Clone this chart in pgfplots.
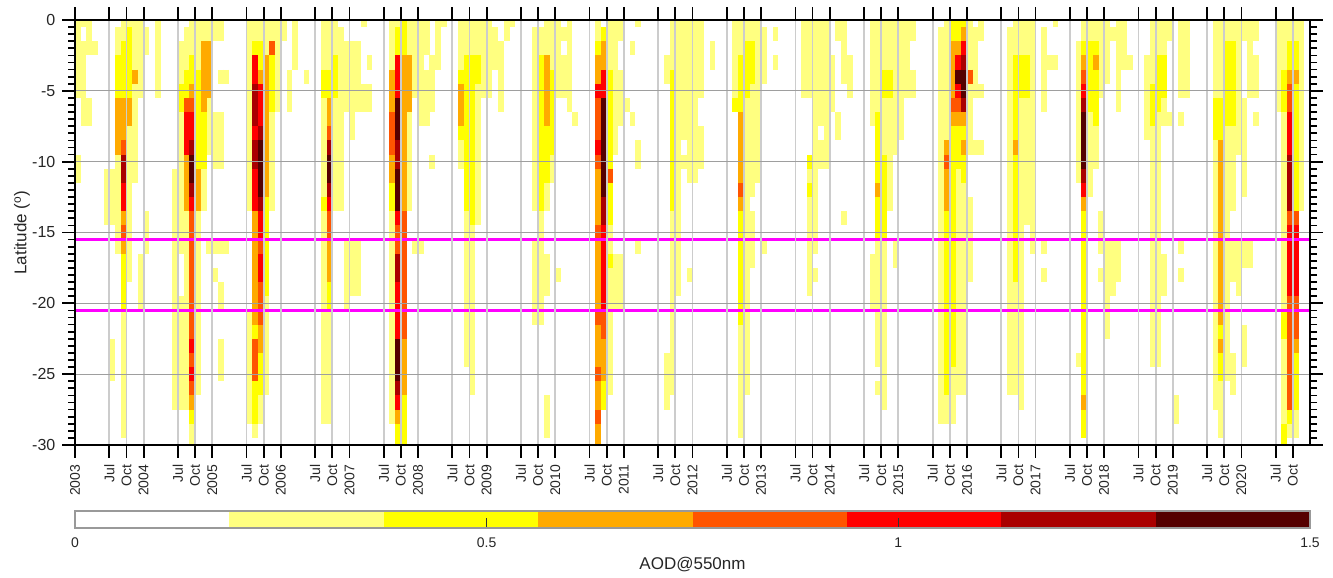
\documentclass[border=0pt]{standalone}
\usepackage{fontspec}
\setmainfont{Liberation Sans}
\usepackage{pgfplots}
\usepackage{pgfplotstable}
\pgfplotsset{compat=1.18}

% flipped hot(8) levels, AOD 0..1.5 in steps of 0.1875
\definecolor{c1}{RGB}{255,255,128}
\definecolor{c2}{RGB}{255,255,0}
\definecolor{c3}{RGB}{255,170,0}
\definecolor{c4}{RGB}{255,85,0}
\definecolor{c5}{RGB}{255,0,0}
\definecolor{c6}{RGB}{170,0,0}
\definecolor{c7}{RGB}{85,0,0}
\definecolor{labgray}{RGB}{38,38,38}
\definecolor{bound}{RGB}{255,0,255}

% one row = one run of cells: year, month (0=Jan), first and last row (latitude -a .. -b), level
\pgfplotstableread{
yr m a b lev
2003 0 0 5 1
2003 0 10 11 1
2003 1 0 0 1
2003 1 2 7 1
2003 2 0 2 1
2003 2 6 7 1
2003 3 2 2 1
2003 5 11 14 1
2003 6 11 14 1
2003 6 23 25 1
2003 7 1 2 1
2003 7 3 5 2
2003 7 6 9 3
2003 7 10 16 1
2003 8 0 1 1
2003 8 2 5 2
2003 8 6 8 3
2003 8 9 9 4
2003 8 10 11 6
2003 8 12 13 5
2003 8 14 14 3
2003 8 15 15 4
2003 8 16 16 3
2003 8 17 20 2
2003 8 21 29 1
2003 9 0 0 1
2003 9 1 5 2
2003 9 6 7 3
2003 9 8 18 1
2003 10 0 3 1
2003 10 4 4 3
2003 10 5 11 1
2003 11 0 5 1
2003 11 17 20 1
2004 0 1 2 1
2004 0 14 16 1
2004 2 0 5 1
2004 5 11 27 1
2004 6 2 4 1
2004 6 5 6 2
2004 6 7 16 1
2004 6 20 27 1
2004 7 1 3 1
2004 7 4 5 2
2004 7 6 6 4
2004 7 7 9 5
2004 7 10 13 3
2004 7 14 27 1
2004 8 0 2 1
2004 8 3 4 2
2004 8 5 5 3
2004 8 6 6 4
2004 8 7 8 5
2004 8 9 9 6
2004 8 10 11 7
2004 8 12 12 6
2004 8 13 13 5
2004 8 14 22 4
2004 8 23 23 5
2004 8 24 24 4
2004 8 25 25 5
2004 8 26 26 4
2004 8 27 27 3
2004 8 28 28 2
2004 8 29 30 1
2004 9 0 3 1
2004 9 4 10 2
2004 9 11 13 3
2004 9 14 26 1
2004 10 0 1 1
2004 10 2 6 3
2004 10 7 10 2
2004 10 11 13 1
2004 11 0 1 1
2004 11 2 5 3
2004 11 6 9 1
2004 11 16 16 1
2005 0 0 1 1
2005 0 7 10 1
2005 0 16 16 1
2005 0 18 18 1
2005 1 0 1 1
2005 1 4 4 1
2005 1 7 10 1
2005 1 16 16 1
2005 1 19 20 1
2005 1 23 25 1
2005 2 4 4 1
2005 2 16 16 1
2005 6 0 13 1
2005 6 21 28 1
2005 7 0 1 1
2005 7 2 2 2
2005 7 3 4 5
2005 7 5 7 6
2005 7 8 8 5
2005 7 9 10 6
2005 7 11 13 5
2005 7 14 21 3
2005 7 22 22 2
2005 7 23 25 4
2005 7 26 28 2
2005 7 29 29 1
2005 8 0 1 1
2005 8 2 3 2
2005 8 4 4 3
2005 8 5 7 5
2005 8 8 8 6
2005 8 9 12 7
2005 8 13 13 6
2005 8 14 15 5
2005 8 16 16 4
2005 8 17 18 5
2005 8 19 21 4
2005 8 22 23 3
2005 8 24 26 2
2005 8 27 28 1
2005 9 0 2 1
2005 9 3 12 3
2005 9 13 19 2
2005 9 20 26 1
2005 10 0 1 1
2005 10 2 2 4
2005 10 3 6 2
2005 10 7 13 1
2005 11 0 6 1
2006 0 0 1 1
2006 1 4 6 1
2006 2 0 3 1
2006 4 4 4 1
2006 7 0 3 1
2006 7 4 5 2
2006 7 6 12 1
2006 7 13 13 2
2006 7 14 28 1
2006 8 0 3 1
2006 8 4 5 2
2006 8 6 7 3
2006 8 8 8 4
2006 8 9 9 6
2006 8 10 11 7
2006 8 12 12 6
2006 8 13 13 5
2006 8 14 15 4
2006 8 16 18 3
2006 8 19 20 2
2006 8 21 28 1
2006 9 0 2 1
2006 9 3 5 2
2006 9 6 13 1
2006 10 1 13 1
2006 11 2 6 1
2006 11 16 20 1
2007 0 2 8 1
2007 0 16 19 1
2007 1 2 6 1
2007 1 16 19 1
2007 2 0 0 1
2007 2 5 6 1
2007 3 3 3 1
2007 3 5 6 1
2007 7 0 3 1
2007 7 4 6 3
2007 7 7 9 4
2007 7 10 11 3
2007 7 12 13 2
2007 7 14 28 1
2007 8 0 0 1
2007 8 1 2 2
2007 8 3 5 5
2007 8 6 8 7
2007 8 9 10 6
2007 8 11 13 7
2007 8 14 14 5
2007 8 15 16 4
2007 8 17 18 6
2007 8 19 22 5
2007 8 23 25 7
2007 8 26 26 6
2007 8 27 27 5
2007 8 28 28 3
2007 8 29 30 2
2007 9 0 2 2
2007 9 3 13 3
2007 9 14 22 4
2007 9 23 26 3
2007 9 27 30 2
2007 10 0 2 1
2007 10 3 6 3
2007 10 7 13 1
2007 11 0 5 1
2007 11 16 16 1
2008 0 0 7 1
2008 0 16 16 1
2008 1 0 2 1
2008 1 4 7 1
2008 2 3 6 1
2008 2 10 10 1
2008 3 0 3 1
2008 4 0 0 1
2008 7 0 3 1
2008 7 4 4 2
2008 7 5 7 3
2008 7 8 8 2
2008 7 9 10 1
2008 8 0 2 1
2008 8 3 13 2
2008 8 14 24 1
2008 9 0 2 1
2008 9 3 14 2
2008 9 15 26 1
2008 10 0 2 1
2008 10 3 4 2
2008 10 5 14 1
2008 11 0 5 1
2009 0 0 5 1
2009 1 1 3 1
2009 2 2 6 1
2009 3 0 1 1
2009 4 0 0 1
2009 8 1 13 1
2009 8 16 21 1
2009 9 1 2 1
2009 9 3 13 2
2009 9 14 21 1
2009 10 0 2 1
2009 10 3 7 3
2009 10 8 11 2
2009 10 12 13 1
2009 10 17 19 1
2009 10 27 29 1
2009 11 0 3 1
2009 11 4 9 2
2009 11 10 11 1
2010 0 0 5 1
2010 0 18 18 1
2010 1 1 1 1
2010 1 3 5 1
2010 2 0 6 1
2010 3 7 7 1
2010 7 0 1 1
2010 7 2 2 2
2010 7 3 4 3
2010 7 5 5 5
2010 7 6 8 4
2010 7 9 9 5
2010 7 10 10 4
2010 7 11 14 3
2010 7 15 15 4
2010 7 16 20 3
2010 7 21 21 4
2010 7 22 24 3
2010 7 25 25 4
2010 7 26 27 3
2010 7 28 28 4
2010 7 29 30 3
2010 8 1 1 2
2010 8 2 3 3
2010 8 4 5 5
2010 8 6 12 7
2010 8 13 14 6
2010 8 15 20 5
2010 8 21 22 4
2010 8 23 25 3
2010 8 26 27 2
2010 9 0 3 1
2010 9 4 10 2
2010 9 11 11 4
2010 9 12 14 2
2010 9 15 16 1
2010 9 17 17 2
2010 9 18 26 1
2010 10 0 9 1
2010 10 17 20 1
2010 11 0 1 1
2010 11 4 7 1
2010 11 17 20 1
2011 0 6 6 1
2011 1 2 2 1
2011 1 7 7 1
2011 2 0 0 1
2011 2 9 10 1
2011 2 16 16 1
2011 7 3 4 1
2011 7 24 27 1
2011 8 0 3 1
2011 8 4 13 2
2011 8 14 26 1
2011 9 0 19 1
2011 10 0 8 1
2011 10 10 10 1
2011 11 0 11 1
2011 11 18 18 1
2012 0 0 11 1
2012 1 0 5 1
2012 1 8 10 1
2012 3 2 3 1
2012 7 0 5 1
2012 7 6 6 2
2012 8 0 2 1
2012 8 3 6 2
2012 8 7 11 3
2012 8 12 12 4
2012 8 13 13 3
2012 8 14 21 2
2012 8 22 29 1
2012 9 0 1 1
2012 9 2 5 2
2012 9 6 26 1
2012 10 0 1 1
2012 10 2 4 2
2012 10 5 12 1
2012 10 14 17 1
2012 11 0 11 1
2013 0 1 4 1
2013 0 16 16 1
2013 2 1 1 1
2013 2 3 3 1
2013 7 0 5 1
2013 8 0 5 1
2013 8 10 10 2
2013 8 11 11 1
2013 8 12 12 2
2013 8 13 19 1
2013 9 0 16 1
2013 9 18 18 1
2013 10 0 7 1
2013 10 9 10 1
2013 11 0 10 1
2014 0 3 6 1
2014 1 0 1 1
2014 1 7 8 1
2014 2 0 4 1
2014 2 14 14 1
2014 3 3 5 1
2014 7 0 7 1
2014 7 17 20 1
2014 8 0 6 1
2014 8 7 11 2
2014 8 12 12 3
2014 8 13 15 2
2014 8 16 24 1
2014 8 26 26 1
2014 9 0 3 1
2014 9 4 5 2
2014 9 6 9 1
2014 9 10 15 2
2014 9 16 27 1
2014 10 0 3 1
2014 10 4 5 2
2014 10 6 13 1
2014 11 0 9 1
2014 11 16 17 1
2015 0 0 8 1
2015 1 0 5 1
2015 2 0 1 1
2015 2 4 5 1
2015 7 1 28 1
2015 8 0 8 1
2015 8 9 9 3
2015 8 10 10 4
2015 8 11 13 3
2015 8 14 26 2
2015 8 27 28 1
2015 9 0 1 2
2015 9 2 5 3
2015 9 6 6 4
2015 9 7 7 3
2015 9 8 24 2
2015 9 25 28 1
2015 10 0 1 2
2015 10 2 2 3
2015 10 3 3 5
2015 10 4 4 7
2015 10 5 5 5
2015 10 6 6 4
2015 10 7 7 3
2015 10 8 10 2
2015 10 11 26 1
2015 11 0 0 2
2015 11 1 1 3
2015 11 2 2 5
2015 11 3 3 6
2015 11 4 5 7
2015 11 6 6 6
2015 11 7 7 3
2015 11 8 8 2
2015 11 9 9 3
2015 11 10 11 2
2015 11 12 26 1
2016 0 0 3 1
2016 0 4 4 4
2016 0 5 9 1
2016 0 13 18 1
2016 1 1 5 1
2016 1 9 9 1
2016 2 0 1 1
2016 2 5 5 1
2016 2 9 9 1
2016 7 1 26 1
2016 8 0 2 1
2016 8 3 8 2
2016 8 9 9 3
2016 8 10 18 2
2016 8 19 26 1
2016 9 0 2 1
2016 9 3 5 2
2016 9 6 27 1
2016 10 0 2 1
2016 10 3 5 2
2016 10 6 14 1
2016 11 0 16 1
2017 1 1 6 1
2017 1 16 16 1
2017 1 18 18 1
2017 2 3 3 1
2017 3 0 0 1
2017 3 3 3 1
2017 7 2 11 1
2017 7 24 24 1
2017 8 0 1 1
2017 8 2 2 2
2017 8 3 3 3
2017 8 4 4 4
2017 8 5 5 5
2017 8 6 6 6
2017 8 7 10 7
2017 8 11 11 6
2017 8 12 12 5
2017 8 13 13 3
2017 8 14 26 2
2017 8 27 27 3
2017 8 28 29 2
2017 9 0 1 1
2017 9 2 6 2
2017 9 7 12 1
2017 10 0 1 1
2017 10 2 2 2
2017 10 3 3 3
2017 10 4 7 2
2017 10 8 10 1
2017 11 0 5 1
2017 11 14 16 1
2017 11 18 18 1
2018 0 0 4 1
2018 0 16 22 1
2018 1 1 1 1
2018 1 16 19 1
2018 2 0 6 1
2018 2 16 18 1
2018 3 0 3 1
2018 4 3 3 1
2018 7 3 8 1
2018 8 0 4 1
2018 8 5 7 2
2018 8 8 24 1
2018 9 0 2 1
2018 9 3 6 2
2018 9 7 24 1
2018 10 0 2 1
2018 10 3 5 2
2018 10 6 7 1
2018 10 17 19 1
2018 11 0 1 1
2018 11 7 7 1
2019 0 27 28 1
2019 1 0 5 1
2019 1 7 7 1
2019 1 16 16 1
2019 1 18 18 1
2019 2 0 5 1
2019 7 0 5 1
2019 7 6 8 2
2019 7 9 27 1
2019 8 0 5 1
2019 8 6 8 2
2019 8 9 21 3
2019 8 22 22 2
2019 8 23 23 3
2019 8 24 25 2
2019 8 26 29 1
2019 9 0 1 1
2019 9 2 7 2
2019 9 8 25 1
2019 10 0 1 1
2019 10 2 7 2
2019 10 8 13 1
2019 10 16 18 1
2019 10 24 26 1
2019 11 0 9 1
2019 11 16 19 1
2020 0 0 1 1
2020 0 6 12 1
2020 0 16 17 1
2020 0 22 24 1
2020 1 0 5 1
2020 1 16 17 1
2020 2 0 1 1
2020 2 3 5 1
2020 2 7 7 1
2020 6 0 6 1
2020 7 0 3 1
2020 7 4 6 2
2020 7 7 20 1
2020 7 21 22 2
2020 7 23 28 1
2020 7 29 30 2
2020 8 0 1 1
2020 8 2 3 2
2020 8 4 4 3
2020 8 5 6 4
2020 8 7 9 5
2020 8 10 13 6
2020 8 14 14 4
2020 8 15 19 5
2020 8 20 27 4
2020 8 28 28 2
2020 8 29 29 1
2020 9 0 1 1
2020 9 2 3 2
2020 9 4 4 3
2020 9 5 13 2
2020 9 14 14 4
2020 9 15 19 5
2020 9 20 22 4
2020 9 23 23 3
2020 9 24 27 2
2020 9 28 29 1
2020 10 0 13 1
}\cells

\pgfplotsset{
    cellbase/.style={
        draw=none, no markers, forget plot,
        error bars/y dir=minus,
        error bars/y explicit,
        error bars/error mark=none,
    },
    ticklab/.style={font=\fontsize{7}{8.4}\selectfont, text=labgray}
}
\newcommand{\cellplot}[1]{%
  \addplot[cellbase,
    restrict expr to domain={\thisrow{lev}-#1}{-0.1:0.1},
    error bars/error bar style={draw=c#1, line width=2.9pt, line cap=butt, solid}]
    table[x expr=12*(\thisrow{yr}-2003)+\thisrow{m}+0.5,
          y expr=0.5-\thisrow{a},
          y error expr=\thisrow{b}-\thisrow{a}+1] {\cells};}

\begin{document}
\begin{tikzpicture}

\begin{axis}[
    at={(0,0)}, anchor=south west,
    scale only axis, width=617.5pt, height=212.5pt,
    xmin=0, xmax=216, ymin=-30, ymax=0,
    set layers, axis on top,
    axis line style={line width=0.9pt},
    tick align=outside, tick pos=both,
    major tick length=6.3pt, minor tick length=3.5pt,
    every tick/.style={black, line width=0.9pt},
    xtick={0,6,9,12,18,21,24,30,33,36,42,45,48,54,57,60,66,69,72,78,81,84,90,93,96,102,105,108,114,117,120,126,129,132,138,141,144,150,153,156,162,165,168,174,177,180,186,189,192,198,201,204,210,213},
    xticklabels={2003,Jul,Oct,2004,Jul,Oct,2005,Jul,Oct,2006,Jul,Oct,2007,Jul,Oct,2008,Jul,Oct,2009,Jul,Oct,2010,Jul,Oct,2011,Jul,Oct,2012,Jul,Oct,2013,Jul,Oct,2014,Jul,Oct,2015,Jul,Oct,2016,Jul,Oct,2017,Jul,Oct,2018,Jul,Oct,2019,Jul,Oct,2020,Jul,Oct},
    xticklabel style={ticklab, rotate=90, anchor=east},
    ytick={-30,-25,-20,-15,-10,-5,0},
    yticklabels={-30,-25,-20,-15,-10,-5,0},
    minor y tick num=9,
    yticklabel style={ticklab, font=\fontsize{8}{9.6}\selectfont},
    xmajorgrids, ymajorgrids,
    major x grid style={black!20, line width=0.9pt},
    major y grid style={black!38, line width=0.6pt},
    ylabel={Latitude (\textsuperscript{o})},
    every axis y label/.style={at={(axis description cs:0,0.5)}, xshift=-26.5pt, rotate=90, anchor=center, font=\fontsize{8.5}{10}\selectfont, text=labgray},
]
\cellplot{1}
\cellplot{2}
\cellplot{3}
\cellplot{4}
\cellplot{5}
\cellplot{6}
\cellplot{7}
% region bounds
\addplot[bound, line width=1.6pt, forget plot] coordinates {(0,-15.5) (216,-15.5)};
\addplot[bound, line width=1.6pt, forget plot] coordinates {(0,-20.5) (216,-20.5)};
\end{axis}

% colour bar
\begin{axis}[
    at={(0,-33pt)}, anchor=north west,
    scale only axis, width=617.5pt, height=8.5pt,
    xmin=0, xmax=1.5, ymin=0, ymax=1,
    axis on top,
    axis line style={black!40, line width=0.6pt},
    ytick=\empty,
    xtick={0,0.5,1,1.5}, xticklabels={0,0.5,1,1.5},
    tick align=inside, tick pos=left,
    major tick length=5pt,
    every tick/.style={black!80, line width=0.4pt},
    xticklabel style={ticklab, yshift=-1.5pt},
    xlabel={AOD@550nm},
    every axis x label/.style={at={(axis description cs:0.5,0)}, yshift=-18.5pt, anchor=center, font=\fontsize{8.5}{10}\selectfont, text=labgray},
]
\addplot[fill=c1, draw=none] coordinates {(0.1875,1) (0.375,1)} \closedcycle;
\addplot[fill=c2, draw=none] coordinates {(0.375,1) (0.5625,1)} \closedcycle;
\addplot[fill=c3, draw=none] coordinates {(0.5625,1) (0.75,1)} \closedcycle;
\addplot[fill=c4, draw=none] coordinates {(0.75,1) (0.9375,1)} \closedcycle;
\addplot[fill=c5, draw=none] coordinates {(0.9375,1) (1.125,1)} \closedcycle;
\addplot[fill=c6, draw=none] coordinates {(1.125,1) (1.3125,1)} \closedcycle;
\addplot[fill=c7, draw=none] coordinates {(1.3125,1) (1.5,1)} \closedcycle;
\end{axis}

\pgfresetboundingbox
\useasboundingbox (-37.5pt,-66.5pt) rectangle (629pt,222.5pt);
\end{tikzpicture}
\end{document}
